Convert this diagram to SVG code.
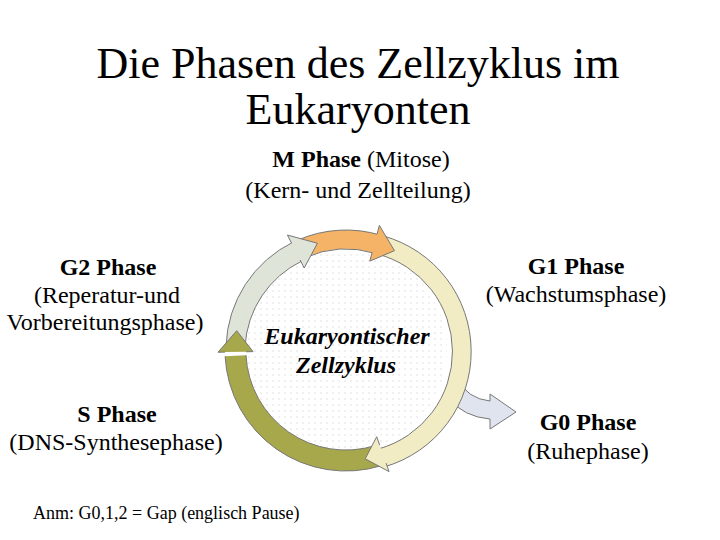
<svg xmlns="http://www.w3.org/2000/svg" width="720" height="540" viewBox="0 0 720 540" font-family="'Liberation Serif', 'Times New Roman', 'DejaVu Serif', serif">
<style>
text{font-family:"Liberation Serif","Times New Roman","DejaVu Serif",serif;fill:#000}
.t{font-size:44px}
.l{font-size:24px}
.b{font-weight:bold}
.c{font-size:24px;font-weight:bold;font-style:italic}
.n{font-size:18px}
.ar{stroke:#777;stroke-width:1;stroke-linejoin:round}
.g1{fill:#f1ecc4}.s{fill:#a7a74b}.g2{fill:#dfe4d8}.m{fill:#f4b366}.g0{fill:#dfe4ee}
</style>
<defs>
<pattern id="dots" width="6" height="6" patternUnits="userSpaceOnUse">
<rect width="6" height="6" fill="#fff"/>
<circle cx="3" cy="3" r="0.7" fill="#d6d6d6"/>
</pattern>
</defs>
<rect width="720" height="540" fill="#fff"/>
<g id="title">
<text class="t" x="358" y="78" text-anchor="middle">Die Phasen des Zellzyklus im</text>
<text class="t" x="358" y="124" text-anchor="middle">Eukaryonten</text>
</g>
<g id="center">
<circle cx="346" cy="350" r="101" fill="url(#dots)"/>
<text class="c" x="347" y="344" text-anchor="middle">Eukaryontischer</text>
<text class="c" x="346" y="373" text-anchor="middle">Zellzyklus</text>
</g>
<g id="connectors">
<path id="g0arrow" class="ar g0" d="M456,378 Q468,399 490,401 L490,394 L516,412 L490,429 L490,419 Q464,417 448,398 Z"/>
<path class="ar g1" d="M378.6,448.9 A101 101 0 0 0 377.21,253.94 L383.08,235.87 A120 120 0 0 1 384.6,466.8"/>
<path class="ar s" d="M246.0,355.2 A100 100 0 0 0 375.24,445.63 L381.38,465.71 A121 121 0 0 1 225.1,356.3"/>
<path class="ar g2" d="M301.9,261.0 A101 101 0 0 0 245.06,346.48 L226.07,345.81 A120 120 0 0 1 293.5,241.9"/>
<path class="ar m" d="M375.6,253.5 A101 101 0 0 0 304.92,257.73 L297.19,240.37 A120 120 0 0 1 381.1,235.3"/>
<path class="ar g1" d="M379.71,445.20 L376.71,436.72 L365.19,458.82 L389.06,471.60 L386.06,463.11"/>
<path class="ar s" d="M246.02,351.75 L253.01,351.62 L236.69,330.72 L218.02,352.23 L225.02,352.11"/>
<path class="ar g2" d="M300.15,260.01 L304.23,268.03 L317.40,243.26 L287.44,235.06 L291.52,243.08"/>
<path class="ar m" d="M372.14,252.44 L369.81,261.13 L394.44,250.68 L379.39,225.40 L377.06,234.09"/>
</g>
<g id="m-phase">
<text class="l" x="361" y="167" text-anchor="middle"><tspan class="b">M Phase</tspan> (Mitose)</text>
<text class="l" x="358" y="198" text-anchor="middle">(Kern- und Zellteilung)</text>
</g>
<g id="g2-phase">
<text class="l b" x="108" y="275" text-anchor="middle">G2 Phase</text>
<text class="l" x="107" y="303" text-anchor="middle">(Reperatur-und</text>
<text class="l" x="105" y="330" text-anchor="middle">Vorbereitungsphase)</text>
</g>
<g id="g1-phase">
<text class="l b" x="576" y="274" text-anchor="middle">G1 Phase</text>
<text class="l" x="576" y="302" text-anchor="middle">(Wachstumsphase)</text>
</g>
<g id="s-phase">
<text class="l b" x="117" y="422" text-anchor="middle">S Phase</text>
<text class="l" x="116" y="450" text-anchor="middle">(DNS-Synthesephase)</text>
</g>
<g id="g0-phase">
<text class="l b" x="588" y="430" text-anchor="middle">G0 Phase</text>
<text class="l" x="588" y="459" text-anchor="middle">(Ruhephase)</text>
</g>
<g id="note">
<text class="n" x="33" y="519">Anm: G0,1,2 = Gap (englisch Pause)</text>
</g>
</svg>
